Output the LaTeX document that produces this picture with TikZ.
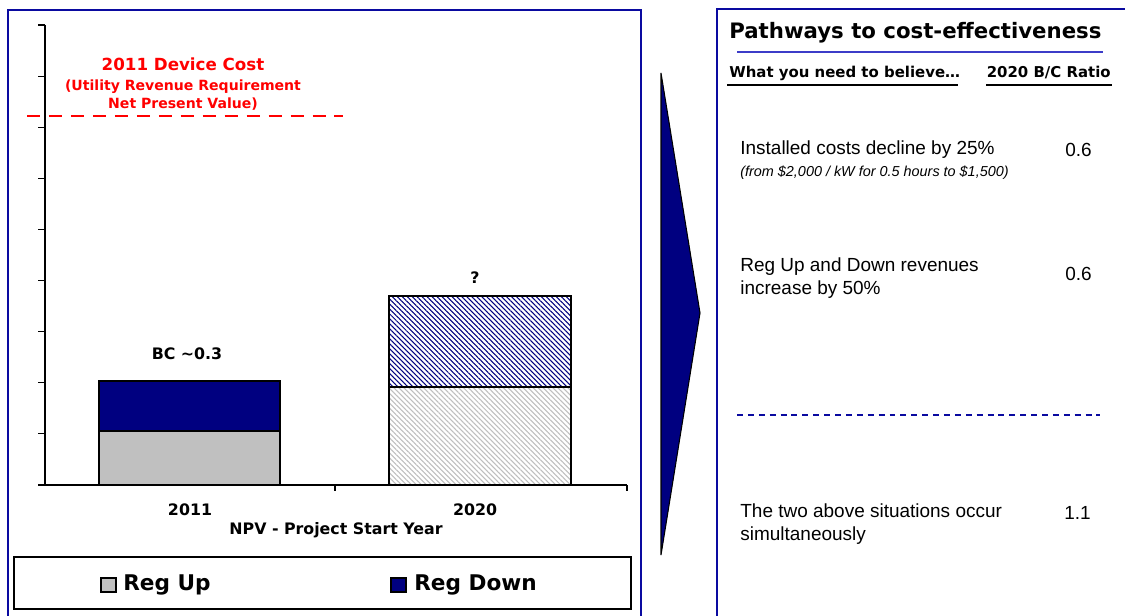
\documentclass[tikz,border=0pt]{standalone}
\usepackage{fontspec}
\setmainfont{Liberation Sans}
\newfontfamily\headfont{DejaVu Sans}
\usetikzlibrary{patterns.meta}
\definecolor{navy}{RGB}{0,0,128}
\definecolor{frameblue}{RGB}{10,10,160}
\definecolor{ruleblue}{RGB}{60,60,200}
\definecolor{regup}{RGB}{192,192,192}
\definecolor{hatchgray}{RGB}{190,190,190}
\begin{document}
\begin{tikzpicture}[x=0.02cm,y=-0.02cm,
        panel/.style={draw=frameblue,line width=1.2pt},
        bar/.style={draw=black,line width=0.6pt},
        lbl/.style={font=\headfont\bfseries\fontsize{9}{11}\selectfont,inner sep=0pt},
        redlbl/.style={font=\headfont\bfseries\fontsize{9.5}{11}\selectfont,text=red,inner sep=0pt},
        redsub/.style={font=\headfont\bfseries\fontsize{8}{10.2}\selectfont,text=red,
          inner sep=0pt,align=center},
        legtext/.style={font=\headfont\bfseries\fontsize{12.3}{14}\selectfont,inner sep=0pt,anchor=west},
        head/.style={font=\headfont\bfseries\fontsize{8.5}{10}\selectfont,inner sep=0pt},
        body/.style={font=\fontsize{10.8}{13}\selectfont,inner sep=0pt,align=left,anchor=west}]
      \useasboundingbox (0,0) rectangle (1125,615);
      \fill[white] (0,0) rectangle (1125,615);
      % panels
      \begin{scope}
        \clip (0,0) rectangle (1125,615);
        \draw[panel] (8,10) rectangle (641,625);
        \draw[panel] (717,9) rectangle (1135,625);
      \end{scope}
      % axes
      \draw[line width=0.6pt] (45,25) -- (45,485) -- (627,485);
      \foreach \k in {0,...,9}
        \draw[line width=0.6pt] (38,{25+\k*51.11}) -- (45,{25+\k*51.11});
      \draw[line width=0.6pt] (335,485) -- (335,491);
      \draw[line width=0.6pt] (627,485) -- (627,491);
      % bars
      \draw[bar,fill=regup] (99,485) rectangle (280,431);
      \draw[bar,fill=navy] (99,431) rectangle (280,381);
      \draw[bar,pattern={Lines[angle=-45,distance=2pt,line width=0.6pt]},pattern color=hatchgray]
        (389,485) rectangle (571,387);
      \draw[bar,pattern={Lines[angle=-45,distance=2pt,line width=0.6pt]},pattern color=navy]
        (389,387) rectangle (571,296);
      % device cost
      \draw[red,line width=1.2pt,dash pattern=on 7.4pt off 5.1pt] (27,116) -- (343,116);
      \node (cost) at (183,64) [redlbl] {2011 Device Cost};
      \node (costsub) at (183,95) [redsub] {(Utility Revenue Requirement\\Net Present Value)};
      \node (bc) at (187,354) [lbl] {BC \textasciitilde0.3};
      \node (q) at (475,278) [lbl] {?};
      \node (y2011) at (190,510) [lbl] {2011};
      \node (y2020) at (475,510) [lbl] {2020};
      \node (xlab) at (336,530) [lbl] {NPV - Project Start Year};
      % legend
      \draw[line width=0.6pt] (14,557) rectangle (631,609);
      \draw[line width=0.6pt,fill=regup] (101,578) rectangle (116,592);
      \node (up) at (123,585) [legtext] {Reg Up};
      \draw[line width=0.6pt,fill=navy] (391,578) rectangle (406,592);
      \node (down) at (414,585) [legtext] {Reg Down};
      % chevron
      \draw[fill=navy,line width=0.6pt] (661,73) -- (700,313) -- (661,555) -- cycle;
      % right panel
      \node (title) at (729,33) [anchor=west,inner sep=0pt,
        font=\headfont\bfseries\fontsize{12.1}{14}\selectfont] {Pathways to cost-effectiveness};
      \draw[ruleblue,line width=0.8pt] (737,52) -- (1103,52);
      \node (believe) at (729,73) [head,anchor=west] {What you need to believe\dots};
      \node (ratio) at (1111,73) [head,anchor=east] {2020 B/C Ratio};
      \draw[line width=1pt] (727,85) -- (958,85);
      \draw[line width=1pt] (986,85) -- (1112,85);
      \node (p1) at (740,150) [body] {Installed costs decline by 25\%};
      \node (p1note) at (740,173) [anchor=west,inner sep=0pt,font=\itshape\fontsize{8.2}{9}\selectfont]
        {(from \$2,000 / kW for 0.5 hours to \$1,500)};
      \node (r1) at (1092,150) [body,anchor=east] {0.6};
      \node (p2) at (740,278.5) [body] {Reg Up and Down revenues\\increase by 50\%};
      \node (r2) at (1092,274) [body,anchor=east] {0.6};
      \draw[frameblue,line width=0.8pt,dash pattern=on 3.4pt off 2.8pt] (737,415) -- (1100,415);
      \node (p3) at (740,524.5) [body] {The two above situations occur\\simultaneously};
      \node (r3) at (1091,513) [body,anchor=east] {1.1};
\end{tikzpicture}
\end{document}
